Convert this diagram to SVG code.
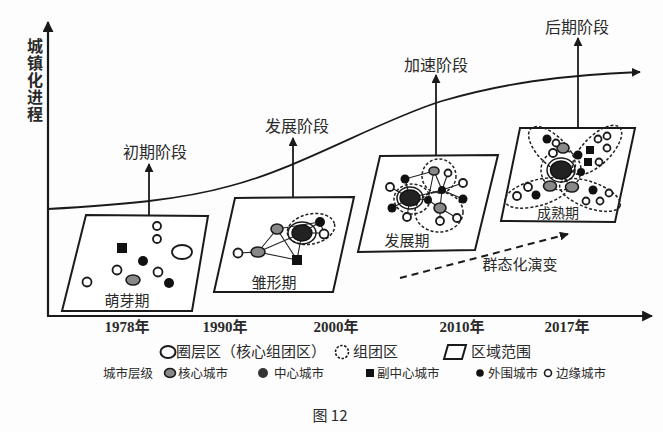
<svg xmlns="http://www.w3.org/2000/svg" width="663" height="432" viewBox="0 0 663 432">
<style>
.ax{stroke:#1a1a1a;stroke-width:2.2;fill:none}
.ln{stroke:#1a1a1a;stroke-width:1.8;fill:none}
.box{stroke:#1a1a1a;stroke-width:2;fill:#fff}
.thin{stroke:#222;stroke-width:1.1;fill:none}
.dash{stroke:#222;stroke-width:1.5;fill:none;stroke-dasharray:3 2}
.ho{fill:#fff;stroke:#1a1a1a;stroke-width:1.8}
.bk{fill:#111}
.gr{fill:#888;stroke:#1a1a1a;stroke-width:1.6}
.dk{fill:#222;stroke:#111;stroke-width:1.4}
.ring{fill:none;stroke:#1a1a1a;stroke-width:1.5}
.cn{font-family:"Noto Sans CJK SC","Noto Sans CJK JP",sans-serif;fill:#2a2a2a}
.yr{font-family:"Liberation Serif","Noto Sans CJK SC",serif;fill:#2a2a2a;font-size:15px;text-anchor:middle;font-weight:bold}
</style>
<defs>
<marker id="ah" viewBox="0 0 10 10" refX="9" refY="5" markerWidth="9" markerHeight="9" markerUnits="userSpaceOnUse" orient="auto">
<path d="M0,0 L10,5 L0,10 Z" fill="#1a1a1a"/>
</marker>
<marker id="ah2" viewBox="0 0 10 10" refX="9" refY="5" markerWidth="11" markerHeight="11" markerUnits="userSpaceOnUse" orient="auto">
<path d="M0,0 L10,5 L0,10 Z" fill="#1a1a1a"/>
</marker>
</defs>
<rect width="663" height="432" fill="#fdfdfd"/>

<g id="connectors">
<line class="ax" x1="48" y1="316" x2="48" y2="22" marker-end="url(#ah2)"/>
<line class="ax" x1="47" y1="316" x2="652" y2="316" marker-end="url(#ah2)"/>
<path class="ln" d="M48,209 C120,205 180,200 230,186 C300,168 380,120 442,101 C500,84 560,75 640,72" marker-end="url(#ah)"/>
<line class="ln" x1="149" y1="216" x2="149" y2="164" marker-end="url(#ah)"/>
<line class="ln" x1="293" y1="198" x2="293" y2="138" marker-end="url(#ah)"/>
<line class="ln" x1="436" y1="156" x2="436" y2="75" marker-end="url(#ah)"/>
<line class="ln" x1="578" y1="128" x2="578" y2="38" marker-end="url(#ah)"/>
<line x1="400" y1="278" x2="568" y2="234" stroke="#1a1a1a" stroke-width="2" stroke-dasharray="7 5" marker-end="url(#ah)"/>
</g>

<g id="yaxis-label">
<text class="cn" x="35" y="38" font-size="16" font-weight="bold" writing-mode="vertical-rl" letter-spacing="1">城镇化进程</text>
</g>

<g id="stage-labels" class="cn" font-size="16" text-anchor="middle">
<text x="155" y="158">初期阶段</text>
<text x="297" y="132">发展阶段</text>
<text x="436" y="71">加速阶段</text>
<text x="577" y="33">后期阶段</text>
</g>

<g id="node-mengya">
<polygon class="box" points="86,215 208,216 192,311 62,311"/>
<circle class="ho" cx="157" cy="226" r="4"/>
<circle class="ho" cx="157" cy="239" r="4"/>
<ellipse class="ho" cx="182" cy="252" rx="10" ry="7"/>
<rect class="bk" x="117" y="243" width="10" height="10"/>
<circle class="bk" cx="143" cy="261" r="5"/>
<circle class="ho" cx="117" cy="270" r="4.5"/>
<ellipse class="gr" cx="133" cy="280" rx="7" ry="5"/>
<circle class="ho" cx="158" cy="272" r="4.5"/>
<circle class="bk" cx="169" cy="283" r="5"/>
<circle class="ho" cx="87" cy="282" r="4.5"/>
<text class="cn" x="127" y="306" font-size="15" text-anchor="middle">萌芽期</text>
</g>

<g id="node-chuxing">
<polygon class="box" points="235,198 354,197 333,292 214,292"/>
<line class="thin" x1="238" y1="253" x2="258" y2="252"/>
<line class="thin" x1="258" y1="252" x2="277" y2="229"/>
<line class="thin" x1="258" y1="252" x2="302" y2="233"/>
<line class="thin" x1="258" y1="252" x2="297" y2="260"/>
<line class="thin" x1="277" y1="229" x2="297" y2="260"/>
<line class="thin" x1="277" y1="229" x2="320" y2="222"/>
<line class="thin" x1="302" y1="233" x2="297" y2="260"/>
<line class="thin" x1="302" y1="233" x2="320" y2="222"/>
<line class="thin" x1="302" y1="233" x2="324" y2="233"/>
<line class="thin" x1="320" y1="222" x2="324" y2="233"/>
<ellipse class="dash" cx="311" cy="229" rx="24" ry="15" transform="rotate(-12 311 229)"/>
<ellipse class="ring" cx="302" cy="233" rx="14" ry="11"/>
<ellipse class="dk" cx="302" cy="233" rx="10" ry="8"/>
<circle class="bk" cx="320" cy="222" r="5"/>
<circle class="ho" cx="324" cy="234" r="4.5"/>
<ellipse class="gr" cx="277" cy="229" rx="6" ry="5"/>
<ellipse class="gr" cx="258" cy="252" rx="7" ry="5"/>
<circle class="ho" cx="238" cy="253" r="4.5"/>
<rect class="bk" x="292" y="255" width="10" height="10"/>
<text class="cn" x="274" y="288" font-size="15" text-anchor="middle">雏形期</text>
</g>

<g id="node-fazhan">
<polygon class="box" points="380,156 498,155 475,250 358,252"/>
<line class="thin" x1="405" y1="179" x2="434" y2="171"/>
<line class="thin" x1="390" y1="187" x2="410" y2="198"/>
<line class="thin" x1="392" y1="208" x2="410" y2="198"/>
<line class="thin" x1="407" y1="217" x2="410" y2="198"/>
<line class="thin" x1="405" y1="179" x2="410" y2="198"/>
<line class="thin" x1="410" y1="198" x2="428" y2="200"/>
<line class="thin" x1="434" y1="171" x2="428" y2="200"/>
<line class="thin" x1="434" y1="171" x2="442" y2="190"/>
<line class="thin" x1="448" y1="173" x2="442" y2="190"/>
<line class="thin" x1="442" y1="190" x2="463" y2="183"/>
<line class="thin" x1="442" y1="190" x2="463" y2="199"/>
<line class="thin" x1="442" y1="190" x2="440" y2="208"/>
<line class="thin" x1="428" y1="200" x2="440" y2="208"/>
<line class="thin" x1="440" y1="208" x2="440" y2="221"/>
<line class="thin" x1="440" y1="208" x2="457" y2="218"/>
<line class="thin" x1="410" y1="198" x2="442" y2="190"/>
<circle class="dash" cx="439" cy="176" r="17"/>
<ellipse class="dash" cx="439" cy="212" rx="24" ry="20"/>
<ellipse class="dash" cx="412" cy="199" rx="18" ry="15"/>
<ellipse class="ring" cx="410" cy="198" rx="13" ry="11"/>
<ellipse class="dk" cx="410" cy="198" rx="10" ry="8"/>
<ellipse class="gr" cx="434" cy="171" rx="5" ry="4"/>
<ellipse class="gr" cx="440" cy="208" rx="6" ry="5"/>
<circle class="ho" cx="448" cy="173" r="3.5"/>
<circle class="bk" cx="405" cy="179" r="4.5"/>
<circle class="ho" cx="390" cy="187" r="4"/>
<circle class="bk" cx="392" cy="208" r="4.5"/>
<circle class="ho" cx="407" cy="217" r="4"/>
<circle class="bk" cx="428" cy="200" r="4"/>
<circle class="bk" cx="442" cy="190" r="4"/>
<circle class="ho" cx="463" cy="183" r="4"/>
<circle class="bk" cx="463" cy="199" r="4.5"/>
<circle class="ho" cx="440" cy="221" r="4"/>
<circle class="ho" cx="457" cy="218" r="4"/>
<text class="cn" x="407" y="246" font-size="15" text-anchor="middle">发展期</text>
</g>

<g id="node-chengshu">
<polygon class="box" points="520,128 635,128 615,222 501,221"/>
<ellipse class="dash" cx="552" cy="150" rx="30" ry="14" transform="rotate(45 552 150)"/>
<ellipse class="dash" cx="597" cy="150" rx="32" ry="14" transform="rotate(-45 597 150)"/>
<ellipse class="dash" cx="537" cy="193" rx="33" ry="13" transform="rotate(-15 537 193)"/>
<ellipse class="dash" cx="590" cy="195" rx="32" ry="13" transform="rotate(20 590 195)"/>
<circle class="dash" cx="561" cy="170" r="20"/>
<ellipse class="ring" cx="561" cy="170" rx="14" ry="12"/>
<ellipse class="dk" cx="561" cy="170" rx="10.5" ry="9" fill="#1e2530"/>
<circle class="bk" cx="547" cy="139" r="4.5"/>
<ellipse class="gr" cx="563" cy="148" rx="6" ry="5"/>
<circle class="ho" cx="553" cy="153" r="4"/>
<circle class="ho" cx="556" cy="143" r="3.5"/>
<circle class="bk" cx="578" cy="155" r="4.5"/>
<rect class="bk" x="586" y="146" width="8" height="8"/>
<rect class="bk" x="584" y="158" width="8" height="8"/>
<circle class="ho" cx="598" cy="139" r="3.5"/>
<circle class="ho" cx="607" cy="136" r="3.5"/>
<circle class="ho" cx="607" cy="148" r="3.5"/>
<circle class="ho" cx="599" cy="162" r="3.5"/>
<circle class="bk" cx="581" cy="172" r="4"/>
<circle class="ho" cx="517" cy="196" r="4"/>
<circle class="ho" cx="528" cy="187" r="4"/>
<circle class="bk" cx="536" cy="195" r="4.5"/>
<ellipse class="gr" cx="550" cy="186" rx="6.5" ry="5"/>
<ellipse class="gr" cx="572" cy="187" rx="6.5" ry="5"/>
<circle class="bk" cx="593" cy="190" r="4.5"/>
<circle class="ho" cx="586" cy="201" r="3.5"/>
<circle class="ho" cx="600" cy="201" r="3.5"/>
<circle class="ho" cx="609" cy="193" r="3.5"/>
<text class="cn" x="558" y="218" font-size="14" text-anchor="middle">成熟期</text>
</g>

<g id="trend-label">
<text class="cn" x="520" y="270" font-size="15" text-anchor="middle">群态化演变</text>
</g>

<g id="years">
<text class="yr" x="127" y="332">1978年</text>
<text class="yr" x="225" y="332">1990年</text>
<text class="yr" x="336" y="332">2000年</text>
<text class="yr" x="462" y="332">2010年</text>
<text class="yr" x="567" y="332">2017年</text>
</g>

<g id="legend">
<ellipse cx="168" cy="352" rx="7.5" ry="6" fill="none" stroke="#1a1a1a" stroke-width="2"/>
<text class="cn" x="176" y="357" font-size="15">圈层区（核心组团区）</text>
<circle cx="342" cy="352" r="6.5" fill="none" stroke="#1a1a1a" stroke-width="1.6" stroke-dasharray="2.5 1.5"/>
<text class="cn" x="353" y="357" font-size="15">组团区</text>
<polygon points="448,345 466,345 462,359 444,359" fill="none" stroke="#1a1a1a" stroke-width="2"/>
<text class="cn" x="471" y="357" font-size="15">区域范围</text>
<text class="cn" x="103" y="378" font-size="12.5">城市层级</text>
<ellipse cx="170" cy="373" rx="5.5" ry="4.5" fill="#888" stroke="#1a1a1a" stroke-width="1.6"/>
<text class="cn" x="178" y="378" font-size="12.5">核心城市</text>
<circle cx="263" cy="373" r="5" fill="#333"/>
<text class="cn" x="274" y="378" font-size="12.5">中心城市</text>
<rect x="366" y="369" width="8" height="8" fill="#111"/>
<text class="cn" x="377" y="378" font-size="12.5">副中心城市</text>
<circle cx="480" cy="373" r="3.8" fill="#111"/>
<text class="cn" x="488" y="378" font-size="12.5">外围城市</text>
<circle cx="548" cy="373" r="3.5" fill="#fff" stroke="#1a1a1a" stroke-width="1.6"/>
<text class="cn" x="556" y="378" font-size="12.5">边缘城市</text>
</g>

<g id="caption">
<text class="cn" x="330" y="421" font-size="15" text-anchor="middle">图 12</text>
</g>
</svg>
